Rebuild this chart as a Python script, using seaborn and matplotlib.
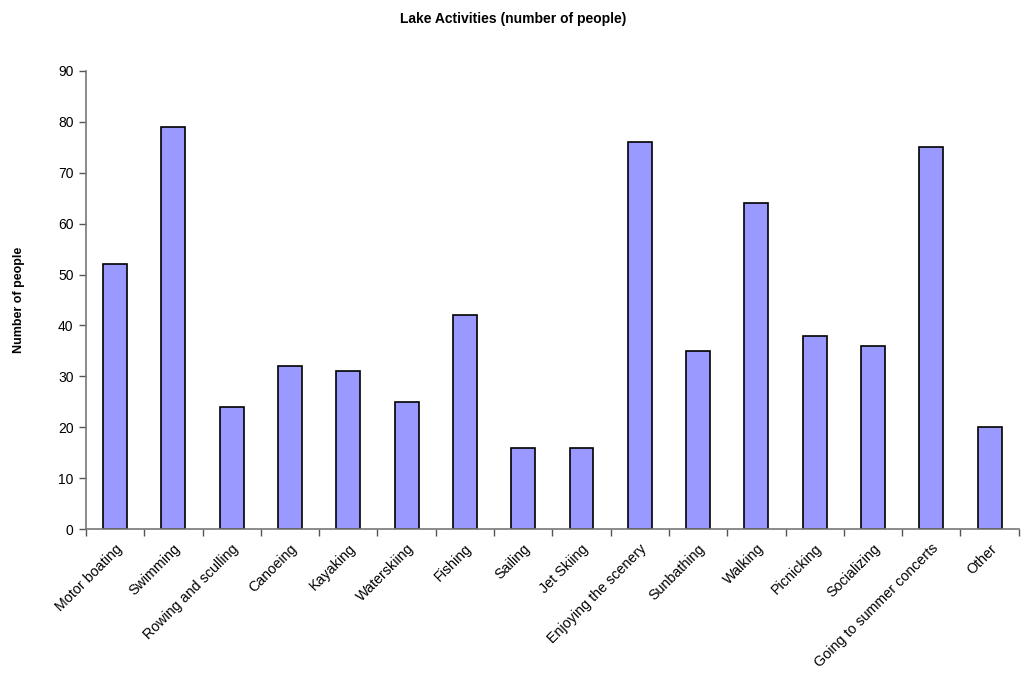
import matplotlib
matplotlib.use("Agg")
import matplotlib.pyplot as plt
import matplotlib.transforms as mtransforms
import numpy as np
import pandas as pd
import seaborn as sns

activities = ["Motor boating", "Swimming", "Rowing and sculling", "Canoeing", "Kayaking",
              "Waterskiing", "Fishing", "Sailing", "Jet Skiing", "Enjoying the scenery",
              "Sunbathing", "Walking", "Picnicking", "Socializing",
              "Going to summer concerts", "Other"]
people = [52, 79, 24, 32, 31, 25, 42, 16, 16, 76, 35, 64, 38, 36, 75, 20]
y_ticks = [0, 10, 20, 30, 40, 50, 60, 70, 80, 90]

df = pd.DataFrame({"activity": activities, "people": people})

sns.set_theme(style="white")
plt.rcParams["font.family"] = ["Liberation Sans", "DejaVu Sans"]
plt.rcParams["text.color"] = "black"
plt.rcParams["xtick.color"] = "black"
plt.rcParams["ytick.color"] = "black"
plt.rcParams["axes.labelcolor"] = "black"

fig = plt.figure(figsize=(10.27, 6.85), dpi=100)
ax = fig.add_axes([0.0837, 0.2277, 0.9083, 0.6687])

sns.barplot(data=df, x="activity", y="people", color="#9999FF", saturation=1,
            width=0.41, edgecolor="black", linewidth=1.2, ax=ax)

ax.set_ylim(0, 90)
ax.set_xlim(-0.5, len(activities) - 0.5)
ax.set_yticks(y_ticks)
ax.set_yticklabels([str(v) for v in y_ticks], fontsize=10)

# category labels on major ticks (no tick marks), separators on minor ticks
ax.set_xticks(range(len(activities)))
ax.set_xticklabels(activities, rotation=45, ha="right", rotation_mode="anchor", fontsize=10.3)
shift = mtransforms.ScaledTranslation(-5 / 100, 0, fig.dpi_scale_trans)
for lbl in ax.get_xticklabels():
    lbl.set_transform(lbl.get_transform() + shift)
ax.set_xticks(np.arange(-0.5, len(activities), 1.0), minor=True)
ax.tick_params(axis="x", which="major", length=0, pad=9)
ax.tick_params(axis="x", which="minor", length=5, width=1, color="#555555", direction="out", bottom=True)
ax.tick_params(axis="y", length=5, width=1, color="#555555", direction="out", left=True, pad=4)

for side in ["top", "right"]:
    ax.spines[side].set_visible(False)
for side in ["left", "bottom"]:
    ax.spines[side].set_color("#777777")
    ax.spines[side].set_linewidth(1.2)

ax.set_xlabel("")
ax.set_ylabel("Number of people", fontsize=9, fontweight="bold", labelpad=24)
fig.suptitle("Lake Activities (number of people)", fontsize=10, fontweight="bold", y=0.982)

fig.savefig("out.png", dpi=100, facecolor="white")
